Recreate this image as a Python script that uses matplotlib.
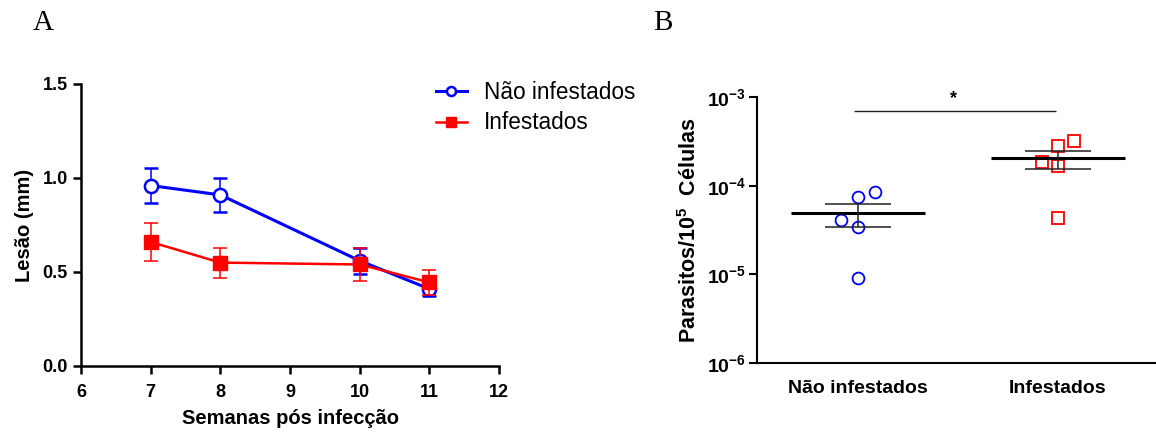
import matplotlib
matplotlib.use("Agg")
import matplotlib.pyplot as plt
from matplotlib.lines import Line2D
import numpy as np

plt.rcParams['font.family'] = ['Liberation Sans', 'DejaVu Sans']
plt.rcParams['mathtext.fontset'] = 'custom'
plt.rcParams['mathtext.rm'] = 'Liberation Sans:bold'
plt.rcParams['mathtext.it'] = 'Liberation Sans:bold'
plt.rcParams['mathtext.bf'] = 'Liberation Sans:bold'

# ---- Panel A data ----
weeks = [7, 8, 10, 11]
nao_mean = [0.96, 0.91, 0.56, 0.41]
nao_err = [0.095, 0.09, 0.07, 0.04]
inf_mean = [0.66, 0.55, 0.54, 0.445]
inf_err = [0.10, 0.08, 0.088, 0.065]
series_labels = ['Não infestados', 'Infestados']

# ---- Panel B data ----
categories = ['Não infestados', 'Infestados']
nao_points = [4.06e-5, 7.38e-5, 8.4e-5, 3.42e-5, 9.1e-6]
nao_offsets = [-0.083, 0.0, 0.083, 0.0, 0.0]
inf_points = [1.87e-4, 2.83e-4, 3.16e-4, 1.68e-4, 4.36e-5]
inf_offsets = [-0.08, 0.0, 0.078, 0.0, 0.0]
group_means = [4.92e-5, 2.03e-4]
group_sem_hi = [6.15e-5, 2.48e-4]
group_sem_lo = [3.42e-5, 1.53e-4]
log_ticks = [1e-6, 1e-5, 1e-4, 1e-3]
log_tick_labels = [r'$10^{-6}$', r'$10^{-5}$', r'$10^{-4}$', r'$10^{-3}$']

BLUE = '#0000ff'
RED = '#ff0000'

fig = plt.figure(figsize=(11.56, 4.32), dpi=100)

# ---------------- Panel A ----------------
axA = fig.add_axes([81/1156, 1-366/432, 418/1156, 282/432])
axA.errorbar(weeks, nao_mean, yerr=nao_err, color=BLUE, lw=2.2, marker='o',
             mfc='white', mec=BLUE, mew=1.8, ms=9.5, capsize=5, elinewidth=1.1,
             capthick=1.1, zorder=3)
axA.errorbar(weeks, inf_mean, yerr=inf_err, color=RED, lw=1.8, marker='s',
             mfc=RED, mec=RED, ms=9.5, capsize=5, elinewidth=1.1,
             capthick=1.1, zorder=4)
axA.set_xlim(6, 12)
axA.set_ylim(0, 1.5)
axA.set_xticks([6, 7, 8, 9, 10, 11, 12])
axA.set_yticks([0.0, 0.5, 1.0, 1.5])
axA.set_yticklabels(['0.0', '0.5', '1.0', '1.5'])
for s in ['top', 'right']:
    axA.spines[s].set_visible(False)
for s in ['left', 'bottom']:
    axA.spines[s].set_linewidth(1.8)
axA.tick_params(width=1.8, length=6, labelsize=13)
axA.tick_params(axis='x', pad=7)
for lab in axA.get_xticklabels() + axA.get_yticklabels():
    lab.set_fontweight('bold')
axA.set_xlabel('Semanas pós infecção', fontsize=14.5, fontweight='bold', labelpad=6)
axA.set_ylabel('Lesão (mm)', fontsize=14.5, fontweight='bold', labelpad=6)
handles = [Line2D([], [], color=BLUE, lw=2.2, marker='o', mfc='white', mec=BLUE,
                  mew=1.8, ms=6.5),
           Line2D([], [], color=RED, lw=1.8, marker='s', mfc=RED, mec=RED, ms=7)]
leg = axA.legend(handles, series_labels, loc='upper left',
                 bbox_to_anchor=(436/1156, 1-81/432),
                 bbox_transform=fig.transFigure, frameon=False, fontsize=16.3,
                 handlelength=1.35, handletextpad=0.75, labelspacing=0.33,
                 borderaxespad=0, borderpad=0)

# ---------------- Panel B ----------------
axB = fig.add_axes([757/1156, 1-363/432, 400/1156, 266/432])
xs0 = [0 + o for o in nao_offsets]
xs1 = [1 + o for o in inf_offsets]
axB.plot(xs0, nao_points, linestyle='none', marker='o', mfc='none', mec=BLUE,
         mew=1.3, ms=8.5, zorder=3)
axB.plot(xs1, inf_points, linestyle='none', marker='s', mfc='none', mec=RED,
         mew=1.3, ms=8, zorder=3)
for i in range(len(categories)):
    axB.hlines(group_means[i], i - 0.333, i + 0.333, color='black', lw=2.2, zorder=4)
    axB.hlines([group_sem_hi[i], group_sem_lo[i]], i - 0.167, i + 0.167,
               color='#222222', lw=1.1, zorder=4)
    axB.vlines(i, group_sem_lo[i], group_sem_hi[i], color='#222222', lw=1.1, zorder=4)
axB.set_yscale('log')
axB.set_ylim(1e-6, 1e-3)
axB.set_xlim(-0.505, 1.495)
axB.set_yticks(log_ticks)
axB.set_yticklabels(log_tick_labels)
axB.yaxis.set_minor_locator(matplotlib.ticker.NullLocator())
axB.set_xticks([0, 1])
axB.set_xticklabels(categories)
for s in ['top', 'right']:
    axB.spines[s].set_visible(False)
for s in ['left', 'bottom']:
    axB.spines[s].set_linewidth(1.5)
axB.tick_params(axis='y', width=1.5, length=6, labelsize=14, pad=2)
axB.tick_params(axis='x', length=0, labelsize=14, pad=12)
for lab in axB.get_xticklabels():
    lab.set_fontweight('bold')
axB.set_ylabel(r'Parasitos/$10^{5}$  Células', fontsize=15.5, fontweight='bold', labelpad=4)
# significance bar
axB.hlines(7.0e-4, -0.02, 0.99, color='#222222', lw=1.0)
axB.text(0.475, 7.6e-4, '*', ha='center', va='bottom', fontsize=13, fontweight='bold')

# panel letters
fig.text(43/1156, 1-23/432, 'A', family='Liberation Serif', fontsize=21, ha='center', va='center')
fig.text(663/1156, 1-23/432, 'B', family='Liberation Serif', fontsize=21, ha='center', va='center')

fig.savefig('out.png', dpi=100)
